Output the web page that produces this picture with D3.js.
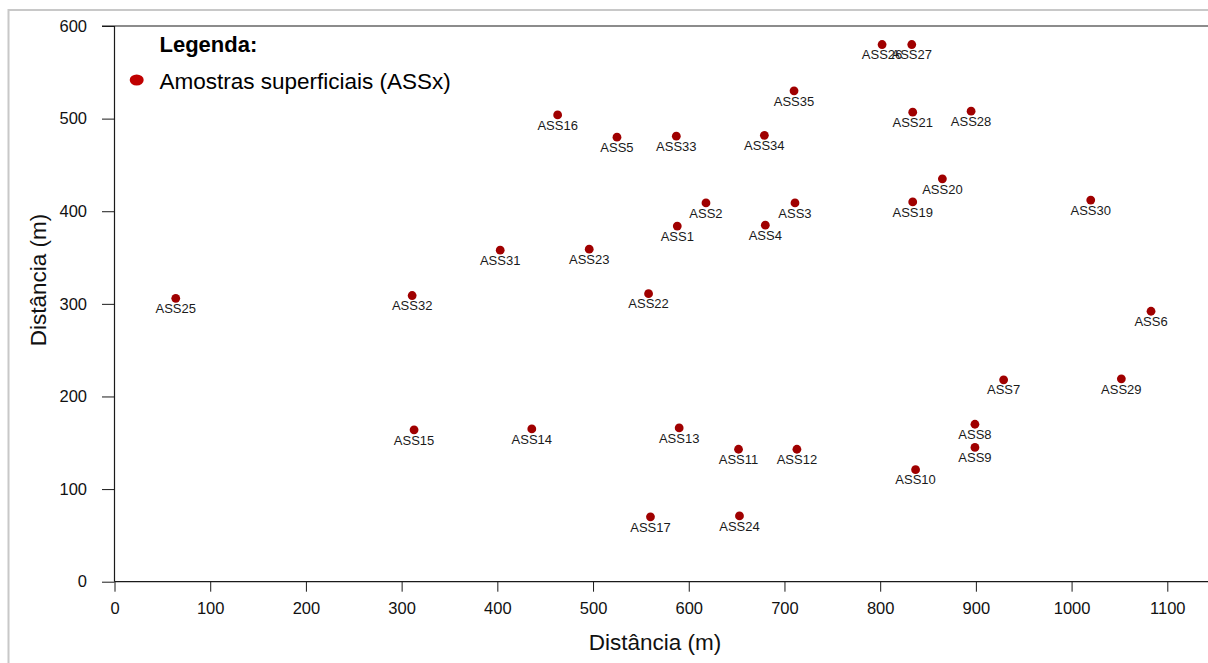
<!DOCTYPE html>
<html>
<head>
<meta charset="utf-8">
<script src="https://cdn.jsdelivr.net/npm/d3@7"></script>
<style>
html,body{margin:0;padding:0;background:#fff;}
svg{display:block;font-family:"Liberation Sans",Arial,sans-serif;}
</style>
</head>
<body>
<svg id="chart" width="1208" height="663"></svg>
<script>
const labels = ["ASS1","ASS2","ASS3","ASS4","ASS5","ASS6","ASS7","ASS8","ASS9","ASS10",
  "ASS11","ASS12","ASS13","ASS14","ASS15","ASS16","ASS17","ASS19","ASS20","ASS21",
  "ASS22","ASS23","ASS24","ASS25","ASS26","ASS27","ASS28","ASS29","ASS30","ASS31",
  "ASS32","ASS33","ASS34","ASS35"];
const xValues = [588,618,711,680,525,1083,929,899,899,837,
  652,713,590,436,313,463,560,834,865,834,
  558,496,653,64,802,833,895,1052,1020,403,
  311,587,679,710];
const yValues = [384,409,409,385,480,292,218,170,145,121,
  143,143,166,165,164,504,70,410,435,507,
  311,359,71,306,580,580,508,219,412,358,
  309,481,482,530];
const xTicks = [0,100,200,300,400,500,600,700,800,900,1000,1100];
const yTicks = [0,100,200,300,400,500,600];
const xTitle = "Distância (m)";
const yTitle = "Distância (m)";
const legendTitle = "Legenda:";
const legendLabel = "Amostras superficiais (ASSx)";

const svg = d3.select("#chart");
const x = d3.scaleLinear().domain([0,1100]).range([114.5,1167.3]);
const y = d3.scaleLinear().domain([0,600]).range([581.7,26]);

// outer border
svg.append("rect").attr("x",8.5).attr("y",10).attr("width",1230).attr("height",700)
  .attr("fill","none").attr("stroke","#c8c8c8").attr("stroke-width",2);

const axisColor = "#1a1a1a";
const fmt = d3.format("d");
// x axis
const gx = svg.append("g").attr("transform",`translate(0,${y(0)})`)
  .call(d3.axisBottom(x).tickValues(xTicks).tickFormat(fmt).tickSize(10).tickSizeOuter(0).tickPadding(11));
gx.select(".domain").remove();
gx.selectAll(".tick line").attr("stroke",axisColor);
gx.selectAll(".tick text").attr("font-size",16.5).attr("fill","#111").attr("font-family","Liberation Sans, Arial, sans-serif");
// y axis
const gy = svg.append("g").attr("transform",`translate(${x(0)},0)`)
  .call(d3.axisLeft(y).tickValues(yTicks).tickFormat(fmt).tickSize(12.5).tickSizeOuter(0).tickPadding(15));
gy.select(".domain").remove();
gy.selectAll(".tick line").attr("stroke",axisColor);
gy.selectAll(".tick text").attr("font-size",16.5).attr("fill","#111").attr("font-family","Liberation Sans, Arial, sans-serif");

// frame lines
svg.append("line").attr("x1",x(0)).attr("x2",x(0)).attr("y1",y(600)).attr("y2",y(0))
  .attr("stroke",axisColor).attr("stroke-width",1.2);
svg.append("line").attr("x1",x(0)).attr("x2",1208).attr("y1",y(0)).attr("y2",y(0))
  .attr("stroke",axisColor).attr("stroke-width",1.2);
svg.append("line").attr("x1",102).attr("x2",1208).attr("y1",y(600)).attr("y2",y(600))
  .attr("stroke",axisColor).attr("stroke-width",1.2);

// axis titles
svg.append("text").attr("x",655).attr("y",650).attr("text-anchor","middle")
  .attr("font-size",22.5).attr("fill","#111").text(xTitle);
svg.append("text").attr("transform","translate(46,280) rotate(-90)").attr("text-anchor","middle")
  .attr("font-size",22.5).attr("fill","#111").text(yTitle);

// points
const data = labels.map((l,i)=>({label:l,x:xValues[i],y:yValues[i]}));
svg.append("g").selectAll("circle").data(data).join("circle")
  .attr("cx",d=>x(d.x)).attr("cy",d=>y(d.y)).attr("r",4.4).attr("fill","#a00000");
svg.append("g").selectAll("text").data(data).join("text")
  .attr("x",d=>x(d.x)).attr("y",d=>y(d.y)+14.7).attr("text-anchor","middle")
  .attr("font-size",13).attr("fill","#1a1a1a").text(d=>d.label);

// legend
svg.append("text").attr("x",159.5).attr("y",51.7).attr("font-size",22).attr("font-weight","bold")
  .attr("fill","#000").text(legendTitle);
svg.append("ellipse").attr("cx",136.7).attr("cy",80).attr("rx",7).attr("ry",5.6).attr("fill","#c00000");
svg.append("text").attr("x",159.5).attr("y",89.3).attr("font-size",22.5)
  .attr("fill","#000").text(legendLabel);
</script>
</body>
</html>
